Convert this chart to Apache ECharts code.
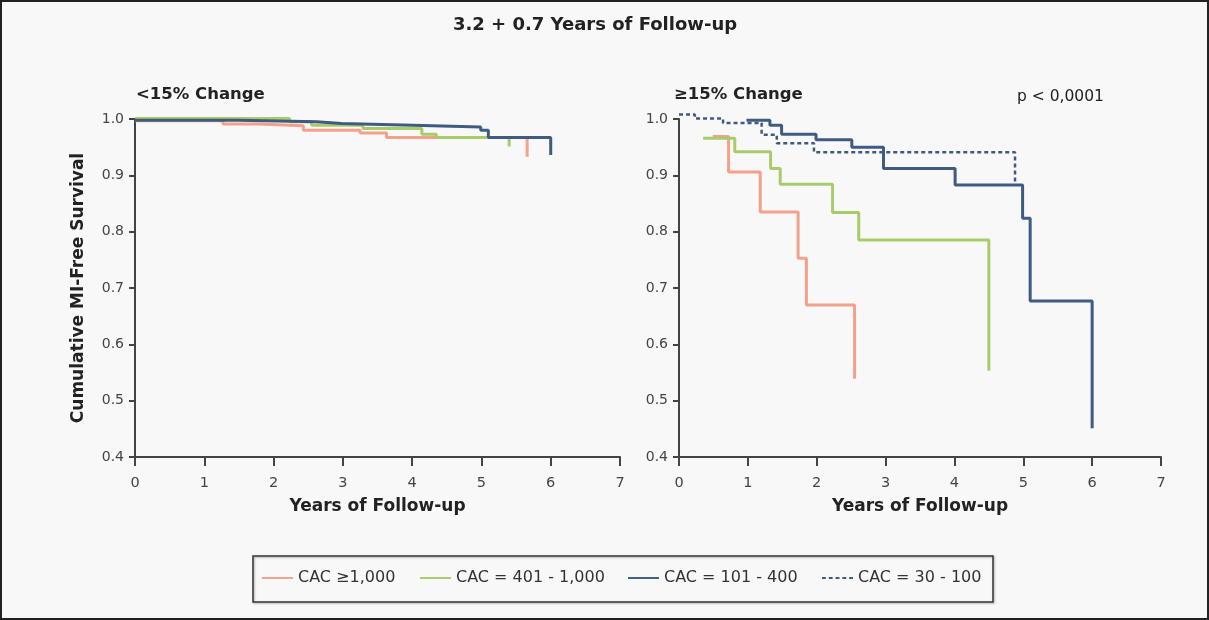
<!DOCTYPE html>
<html><head><meta charset="utf-8">
<script src="https://cdn.jsdelivr.net/npm/echarts@6/dist/echarts.min.js"></script>
<style>html,body{margin:0;padding:0;background:#f8f8f8;}#c{width:1209px;height:620px;}</style>
</head><body><div id="c"></div>
<script>
// Tick labels
const xTicks = [0,1,2,3,4,5,6,7];
const yTickLabels = ['0.4','0.5','0.6','0.7','0.8','0.9','1.0'];
const seriesNames = ['CAC \u22651,000','CAC = 401 - 1,000','CAC = 101 - 400','CAC = 30 - 100'];

// <15% change panel: [years, survival]
const lowCac1000 = [[0,0.997],[1.27,0.991],[1.78,0.988],[2.43,0.980],[3.25,0.975],[3.63,0.967],[5.66,0.933]];
const lowCac401 = [[0,1.001],[2.23,0.995],[2.55,0.989],[3.29,0.983],[4.14,0.973],[4.35,0.967],[5.40,0.951]];
const lowCac101 = [[0,0.998],[1.49,0.995],[2.62,0.992],[2.98,0.989],[4.01,0.986],[4.99,0.980],[5.10,0.967],[6.00,0.936]];

// >=15% change panel
const highCac1000 = [[0.49,0.969],[0.72,0.906],[1.18,0.835],[1.73,0.753],[1.85,0.670],[2.55,0.539]];
const highCac401 = [[0.35,0.966],[0.81,0.942],[1.33,0.912],[1.47,0.884],[2.23,0.834],[2.61,0.785],[4.50,0.553]];
const highCac101 = [[0.98,0.998],[1.32,0.989],[1.49,0.973],[1.99,0.963],[2.51,0.950],[2.97,0.912],[4.01,0.883],[4.99,0.824],[5.10,0.677],[6.00,0.451]];
const highCac30 = [[0,1.008],[0.23,1.001],[0.64,0.993],[1.20,0.972],[1.42,0.957],[1.96,0.941],[4.88,0.886]];

const colors = ['#f4a08a','#a9cc6b','#3e5b82','#3e5b82'];
const font = 'DejaVu Sans, Verdana, sans-serif';

function xAxis(gi){
  return {gridIndex:gi,type:'value',min:0,max:7,interval:1,
    axisLine:{lineStyle:{color:'#444',width:2}},
    axisTick:{show:true,length:9,lineStyle:{color:'#444',width:2}},
    axisLabel:{color:'#444',fontSize:14.5,fontFamily:font,margin:19},
    splitLine:{show:false},
    name:'Years of Follow-up',nameLocation:'middle',nameGap:41,
    nameTextStyle:{color:'#222',fontSize:17,fontWeight:'bold',fontFamily:font}};
}
function yAxis(gi){
  return {gridIndex:gi,type:'value',min:0.4,max:1.0,interval:0.1,
    axisLine:{show:true,lineStyle:{color:'#444',width:2}},
    axisTick:{show:true,length:6,lineStyle:{color:'#444',width:2}},
    axisLabel:{color:'#444',fontSize:14,fontFamily:font,margin:11,
      formatter:function(v){const i=Math.round((v-0.4)*10);return yTickLabels[i];}},
    splitLine:{show:false}};
}
const yl = yAxis(0);
yl.name='Cumulative MI-Free Survival';yl.nameLocation='middle';yl.nameGap=48;
yl.nameTextStyle={color:'#222',fontSize:17,fontWeight:'bold',fontFamily:font};
const yr = yAxis(1);

function line(name,data,gi,ci,dashed){
  return {name:name,type:'line',step:'end',xAxisIndex:gi,yAxisIndex:gi,data:data,
    showSymbol:false,symbol:'none',clip:false,
    lineStyle:{color:colors[ci],width:dashed?2.5:3,type:dashed?[4,3]:'solid'},
    itemStyle:{color:colors[ci]}};
}
const dashIcon = 'path://M0,0 L4,0 L4,2 L0,2 Z M7,0 L11,0 L11,2 L7,2 Z M14,0 L18,0 L18,2 L14,2 Z M21,0 L25,0 L25,2 L21,2 Z M28,0 L32,0 L32,2 L28,2 Z';
const lineIcon = 'path://M0,0 L32,0 L32,2 L0,2 Z';
const legendLefts = [262,420,628,822];
function legend(i){
  return {top:570,left:legendLefts[i],padding:0,itemWidth:31,itemHeight:2,itemGap:0,
    icon:i===3?dashIcon:lineIcon,
    textStyle:{fontSize:16,color:'#333',fontFamily:font,padding:[0,0,0,0]},
    data:[{name:seriesNames[i]}]};
}

const chart = echarts.init(document.getElementById('c'));
chart.setOption({
  backgroundColor:'#f8f8f8',
  animation:false,
  title:[
    {text:'3.2 + 0.7 Years of Follow-up',left:590,top:11,textAlign:'center',
      textStyle:{fontSize:18,fontWeight:'bold',color:'#222',fontFamily:font}},
    {text:'<15% Change',left:131,top:81,textStyle:{fontSize:16.5,fontWeight:'bold',color:'#222',fontFamily:font}},
    {text:'\u226515% Change',left:669,top:81,textStyle:{fontSize:16.5,fontWeight:'bold',color:'#222',fontFamily:font}},
    {text:'p < 0,0001',left:1012,top:84,textStyle:{fontSize:15.5,fontWeight:'normal',color:'#222',fontFamily:font}}
  ],
  grid:[
    {left:135,top:119,width:485,height:338},
    {left:679,top:119,width:482,height:338}
  ],
  xAxis:[xAxis(0),xAxis(1)],
  yAxis:[yl,yr],
  legend:[legend(0),legend(1),legend(2),legend(3)],
  graphic:[
    {type:'rect',shape:{x:1,y:1,width:1207,height:618},style:{fill:'none',stroke:'#222',lineWidth:2},silent:true},
    {type:'rect',shape:{x:253,y:556,width:740,height:46},style:{fill:'none',stroke:'#333',lineWidth:1.5,shadowColor:'rgba(0,0,0,0.3)',shadowBlur:2,shadowOffsetX:1,shadowOffsetY:1},silent:true}
  ],
  series:[
    line(seriesNames[0],lowCac1000,0,0,false),
    line(seriesNames[1],lowCac401,0,1,false),
    line(seriesNames[2],lowCac101,0,2,false),
    line(seriesNames[0],highCac1000,1,0,false),
    line(seriesNames[1],highCac401,1,1,false),
    line(seriesNames[2],highCac101,1,2,false),
    line(seriesNames[3],highCac30,1,3,true)
  ]
});
</script></body></html>
